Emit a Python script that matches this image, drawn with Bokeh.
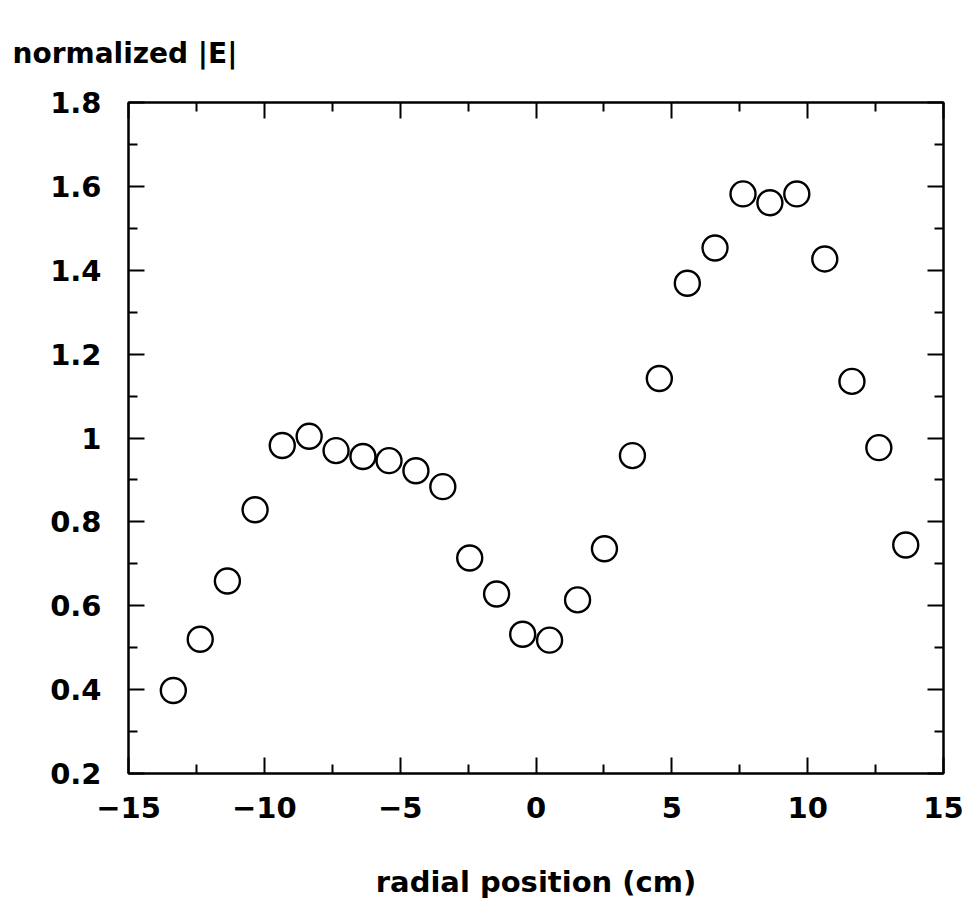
from bokeh.plotting import figure
from bokeh.models import LinearAxis, Range1d, FixedTicker, ColumnDataSource
from bokeh.embed import file_html
from bokeh.resources import INLINE

radial_position = [-13.35, -12.36, -11.36, -10.34, -9.34, -8.35, -7.36, -6.37, -5.41, -4.42,
                   -3.43, -2.44, -1.45, -0.49, 0.50, 1.53, 2.52, 3.55, 4.54, 5.57,
                   6.59, 7.62, 8.61, 9.60, 10.63, 11.63, 12.62, 13.61]
normalized_E = [0.398, 0.520, 0.659, 0.829, 0.982, 1.004, 0.970, 0.956, 0.946, 0.922,
                0.884, 0.714, 0.628, 0.532, 0.518, 0.614, 0.736, 0.958, 1.142, 1.369,
                1.453, 1.582, 1.561, 1.582, 1.427, 1.135, 0.977, 0.745]

x_major = [-15, -10, -5, 0, 5, 10, 15]
x_minor = [-12.5, -7.5, -2.5, 2.5, 7.5, 12.5]
y_major = [0.2, 0.4, 0.6, 0.8, 1.0, 1.2, 1.4, 1.6, 1.8]
y_minor = [0.3, 0.5, 0.7, 0.9, 1.1, 1.3, 1.5, 1.7]
y_labels = {0.2: "0.2", 0.4: "0.4", 0.6: "0.6", 0.8: "0.8", 1.0: "1", 1.2: "1.2",
            1.4: "1.4", 1.6: "1.6", 1.8: "1.8"}
title_text = "normalized |E|"

FONT = "DejaVu Sans"

p = figure(width=971, height=901, output_backend="svg", toolbar_location=None,
           x_range=Range1d(-15, 15), y_range=Range1d(0.2, 1.8),
           x_axis_location=None, y_axis_location=None,
           min_border_left=128, min_border_right=28, min_border_top=102, min_border_bottom=128)

p.title.text = title_text
p.title.text_font = FONT
p.title.text_font_style = "bold"
p.title.text_font_size = "28px"
p.title.text_color = "black"
p.title.align = "left"
p.title.offset = -116
p.title.standoff = 66

p.grid.visible = False
p.outline_line_color = "black"
p.outline_line_width = 2
p.background_fill_color = "white"
p.border_fill_color = "white"

def make_axis(horizontal, labels):
    ax = LinearAxis()
    ax.ticker = FixedTicker(ticks=x_major if horizontal else y_major,
                            minor_ticks=x_minor if horizontal else y_minor)
    ax.major_tick_in = 16
    ax.major_tick_out = 0
    ax.minor_tick_in = 9
    ax.minor_tick_out = 0
    ax.major_tick_line_width = 2
    ax.minor_tick_line_width = 2
    ax.axis_line_width = 2
    ax.axis_line_color = "black"
    ax.major_tick_line_color = "black"
    ax.minor_tick_line_color = "black"
    ax.major_label_text_font = FONT
    ax.major_label_text_font_style = "bold"
    ax.major_label_text_font_size = "29px"
    ax.major_label_text_color = "black"
    if not labels:
        ax.major_label_text_color = None
        ax.major_label_text_font_size = "0px"
    return ax

xb = make_axis(True, True)
xb.axis_label = "radial position (cm)"
xb.axis_label_text_font = FONT
xb.axis_label_text_font_style = "bold"
xb.axis_label_text_font_size = "29px"
xb.axis_label_text_color = "black"
xb.axis_label_standoff = 44
xb.major_label_standoff = 23
p.add_layout(xb, "below")

xa = make_axis(True, False)
p.add_layout(xa, "above")

yl = make_axis(False, True)
yl.major_label_overrides = y_labels
yl.major_label_standoff = 27
p.add_layout(yl, "left")

yr = make_axis(False, False)
p.add_layout(yr, "right")

src = ColumnDataSource(dict(x=radial_position, y=normalized_E))
p.scatter("x", "y", source=src, marker="circle", size=25, fill_color="white",
          line_color="black", line_width=2.4)

open("out.html", "w").write(file_html(p, INLINE))
